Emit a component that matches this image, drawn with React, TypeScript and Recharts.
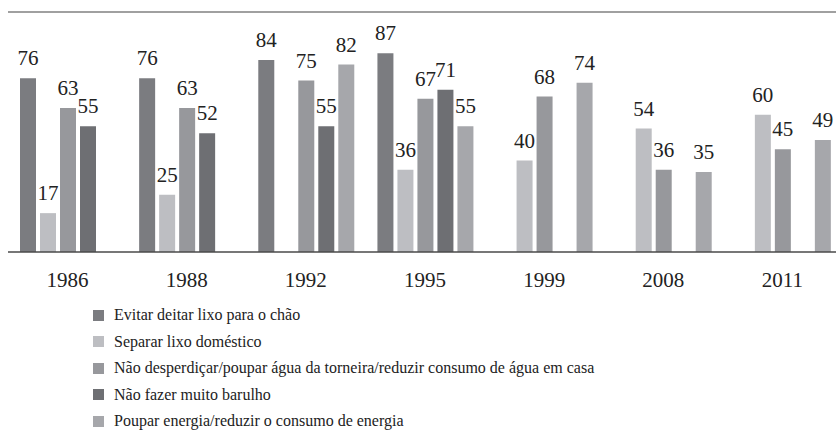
import React from 'react';
import { BarChart, Bar, XAxis, YAxis, LabelList, Legend, ReferenceLine } from 'recharts';

const years = ['1986', '1988', '1992', '1995', '1999', '2008', '2011'];
const evitar = [76, 76, 84, 87, null, null, null];
const separar = [17, 25, null, 36, 40, 54, 60];
const agua = [63, 63, 75, 67, 68, 36, 45];
const barulho = [55, 52, 55, 71, null, null, null];
const energia = [null, null, 82, 55, 74, 35, 49];

const seriesNames = [
  'Evitar deitar lixo para o chão',
  'Separar lixo doméstico',
  'Não desperdiçar/poupar água da torneira/reduzir consumo de água em casa',
  'Não fazer muito barulho',
  'Poupar energia/reduzir o consumo de energia',
];
const seriesKeys = ['evitar', 'separar', 'agua', 'barulho', 'energia'];
const seriesColors = ['#7b7c80', '#bdbec2', '#97989c', '#6e6f73', '#a6a7ab'];
const seriesValues = [evitar, separar, agua, barulho, energia];

const data = years.map((y, i) => {
  const row: any = { year: y };
  seriesKeys.forEach((k, j) => {
    row[k] = seriesValues[j][i];
  });
  return row;
});

const FONT = 'Liberation Serif, DejaVu Serif, serif';

const LegendContent = () => (
  <div style={{ fontFamily: FONT, fontSize: 16, color: '#222' }}>
    {seriesNames.map((n, i) => (
      <div key={n} style={{ display: 'flex', alignItems: 'center', height: 26.5, whiteSpace: 'nowrap' }}>
        <span style={{ display: 'inline-block', width: 11, height: 11, background: seriesColors[i], marginRight: 10 }} />
        <span style={{ fontFamily: FONT, fontSize: 16, color: '#222' }}>{n}</span>
      </div>
    ))}
  </div>
);

export default function App() {
  return (
    <div style={{ width: 836, height: 432, overflow: 'hidden', position: 'relative', fontFamily: FONT }}>
      <style>{`body{margin:0;background:#fff}`}</style>
      <BarChart
        width={850}
        height={432}
        data={data}
        margin={{ top: 12, right: 8, left: 8, bottom: 150 }}
        barSize={16}
        barGap={4}
      >
        <XAxis
          dataKey="year"
          axisLine={{ stroke: '#4a4a4a', strokeWidth: 1.5 }}
          tickLine={false}
          tickSize={0}
          tickMargin={20}
          height={30}
          tick={{ fontFamily: FONT, fontSize: 21, fill: '#222' }}
          interval={0}
        />
        <YAxis
          domain={[0, 105]}
          width={0}
          tick={false}
          tickLine={false}
          axisLine={{ stroke: '#6a6a6a', strokeWidth: 1.2 }}
          allowDataOverflow
        />
        <ReferenceLine y={105} stroke="#808080" strokeWidth={1.5} ifOverflow="extendDomain" />
        {seriesKeys.map((k, i) => (
          <Bar key={k} dataKey={k} name={seriesNames[i]} fill={seriesColors[i]} isAnimationActive={false}>
            <LabelList
              dataKey={k}
              position="top"
              offset={13}
              fontFamily={FONT}
              fontSize={21}
              fill="#222"
            />
          </Bar>
        ))}
        <Legend
          layout="vertical"
          align="center"
          verticalAlign="middle"
          content={<LegendContent />}
          wrapperStyle={{ top: 302, left: 93, width: 700, height: 140 }}
        />
      </BarChart>
    </div>
  );
}
